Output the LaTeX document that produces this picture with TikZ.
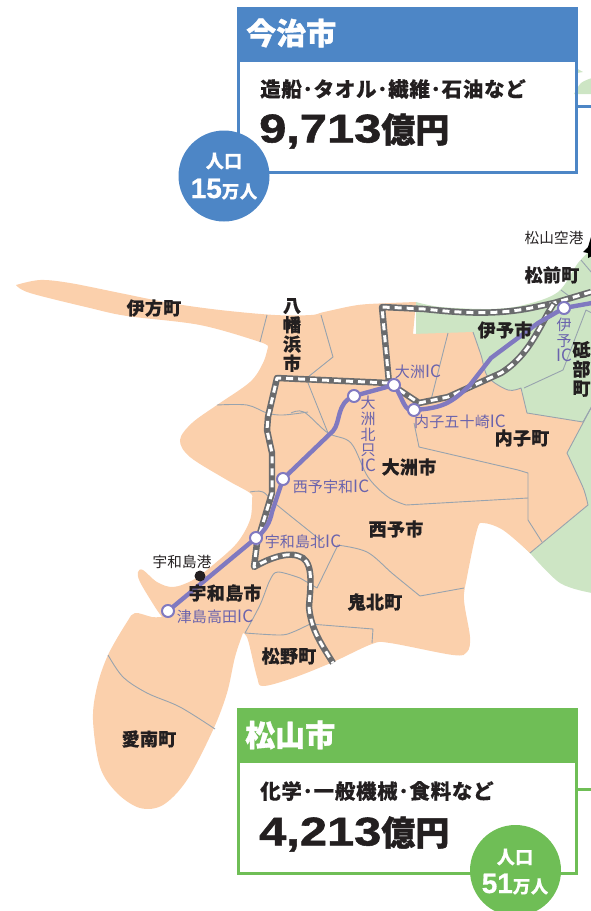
\documentclass[tikz,border=0pt]{standalone}
\usepackage{fontspec}
\newfontfamily\jpb[LetterSpace=2,FakeBold=0.4]{Noto Sans CJK JP}
\newfontfamily\jpt[LetterSpace=3.5,FakeBold=0.3]{Noto Sans CJK JP}
\newfontfamily\jpr[LetterSpace=1]{Noto Sans CJK JP}
\newfontfamily\jph[FakeBold=1.2]{Noto Sans CJK JP}
\newfontfamily\numfont[FakeStretch=1.22,FakeBold=1.4]{Liberation Sans}
\newfontfamily\popfont[FakeBold=0.6]{Liberation Sans}
\pgfdeclarelayer{base}
\pgfsetlayers{base,main}
\definecolor{ink}{HTML}{231F20}
\definecolor{peach}{HTML}{FBD0AC}
\definecolor{leaf}{HTML}{CDE5C4}
\definecolor{border}{HTML}{98A3AE}
\definecolor{railg}{HTML}{6A6B6D}
\definecolor{road}{HTML}{8079C0}
\definecolor{roadt}{HTML}{6A63AD}
\definecolor{imab}{HTML}{4D86C6}
\definecolor{matg}{HTML}{6FBE56}
\tikzset{
  x=1pt,y=-1pt,
  town/.style={inner sep=0pt,text=ink,align=center,font=\jpb\bfseries\fontsize{18}{19.3}\selectfont},
  place/.style={inner sep=0pt,text=ink,font=\jpr\fontsize{14.6}{16}\selectfont},
  ictext/.style={inner sep=0pt,text=roadt,align=center,font=\jpr\fontsize{15}{15.8}\selectfont},
  icnode/.style={circle,draw=road,fill=white,line width=2pt,minimum size=12pt,inner sep=0pt},
  limit/.style={draw=border,line width=0.9pt,line join=round},
  railbed/.style={draw=railg,line width=6.4pt,line join=round},
  railtie/.style={draw=white,line width=3pt,dash pattern=on 7pt off 5pt,line join=round},
  highway/.style={draw=road,line width=4.4pt,line join=round},
  head/.style={inner sep=0pt,text=white,font=\jph\bfseries\fontsize{30}{32}\selectfont},
  goods/.style={inner sep=0pt,text=ink,font=\jpt\bfseries\fontsize{20.5}{22}\selectfont},
  sumv/.style={inner sep=0pt,text=ink,font=\numfont\bfseries\fontsize{40}{42}\selectfont},
  poptop/.style={inner sep=0pt,text=white,font=\jpb\bfseries\fontsize{18}{18}\selectfont},
  popnum/.style={inner sep=0pt,text=white,font=\popfont\bfseries\fontsize{28}{28}\selectfont},
  smooth5/.style={smooth,tension=0.55},
}
\newcommand{\railpath}[1]{\draw[railbed] #1; \draw[railtie] #1;}
\begin{document}
\begin{tikzpicture}
\useasboundingbox (0,0) rectangle (591,911);

% interchanges
\node[icnode] (tsushima) at (168,611) {};
\node[icnode] (uwanorth) at (256,538) {};
\node[icnode] (seiyo) at (283,479) {};
\node[icnode] (ozunorth) at (354,396) {};
\node[icnode] (ozu) at (394,385) {};
\node[icnode] (uchiko) at (414,410) {};
\node[icnode] (iyo) at (564,308) {};
\coordinate (roadeast) at (592,303);

\begin{pgfonlayer}{base}
% leaf land
\fill[leaf] plot[smooth5] coordinates {(416,302) (441,307) (491,309) (524,305) (558,292) (578,263) (592,249)}
  -- (592,593) -- plot[smooth5] coordinates {(592,593) (560,583) (530,553)} -- (416,440) -- cycle;
\fill[leaf] (576,68) -- (583,72) -- (577,73) -- cycle;
\fill[leaf] plot[smooth5] coordinates {(574,94) (581,83) (592,78)} -- (592,94) -- cycle;
% peach land
\fill[peach] plot[smooth5] coordinates {(16,285) (40,280) (70,283) (120,293) (170,303) (220,310) (275,315) (311,315) (324,312) (358,305) (391,303) (416,302)}
  -- (413,334) -- (473,332)
  -- plot[smooth5] coordinates {(473,332) (481,355) (488,377) (508,390) (521,388)}
  -- (527,413) -- (583,422) -- (567,453)
  -- plot[smooth5] coordinates {(567,453) (575,470) (584,490) (588,505)}
  -- (530,553)
  -- plot[smooth5] coordinates {(530,553) (503,530) (483,523) (477,530) (467,577) (464,600) (470,637) (467,652) (453,655) (390,643) (372,644) (333,662) (293,678) (263,686) (257,677) (248,640) (243,633)}
  -- plot[smooth5] coordinates {(243,633) (235,657) (227,693) (213,730) (187,780) (163,805) (140,808) (117,793) (100,767) (93,720) (97,687) (108,655) (127,622) (135,613) (152,617) (162,617)}
  -- plot[smooth5] coordinates {(162,617) (155,607) (140,582) (138,572) (143,570) (157,582) (173,587) (193,580) (213,565) (237,543) (250,520) (252,500) (250,493) (227,480) (190,457) (180,440) (192,423) (217,405) (250,382) (263,363) (268,347)}
  -- plot[smooth5] coordinates {(268,347) (260,342) (200,325) (127,316) (90,308) (30,293) (16,285)}
  -- cycle;
% boundaries
\draw[limit] (267,315) -- (260,342);
\draw[limit] plot[smooth5] coordinates {(217,405) (247,405) (267,413) (283,415) (308,412)};
\draw[limit] plot[smooth5] coordinates {(291,413) (304,412) (328,433) (351,443) (368,477) (388,497) (406,505)} -- (528,498);
\draw[limit] (321,315) -- (333,357) -- (308,377) -- (308,383) -- (328,433);
\draw[limit] (448,333) -- (431,400);
\draw[limit] (414,423) -- (419,447) -- (518,470) -- (528,473) -- (528,520) -- (542,542);
\draw[limit] plot[smooth5] coordinates {(250,492) (263,492) (277,505) (323,542)};
\draw[limit] plot[smooth5] coordinates {(337,545) (367,552) (393,574) (420,596)} -- (464,588);
\draw[limit] (337,547) -- (317,588) -- (300,578);
\draw[limit] plot[smooth5] coordinates {(300,578) (278,572) (270,580) (260,605) (245,633)};
\draw[limit] plot[smooth5] coordinates {(245,633) (280,635) (293,632) (310,624)} -- (373,629) -- (372,643);
\draw[limit] plot[smooth5] coordinates {(108,655) (123,677) (147,693) (180,707) (215,729)};
\draw[limit] (561,290) -- (569,296);
\draw[limit] (581,260) -- (592,273);
\draw[limit] (592,313) -- (586,310) -- (563,370) -- (524,388);
\draw[limit] (527,413) -- (583,422) -- (592,406);
\draw[limit] (592,406) -- (567,453);
\draw[limit] plot[smooth5] coordinates {(567,453) (575,470) (584,490) (588,505)} -- (530,553);
\draw[limit] plot[smooth5] coordinates {(473,332) (481,355) (488,377) (508,390) (521,388)} -- (527,413);
% railway
\railpath{(591,292) -- (554,303) -- (531,308) .. controls (500,314) and (470,314) .. (424,309) -- (382,307) -- (389,383) -- (277,378) -- (268,417) -- (267,430) -- (272,453) -- (272,493) -- (257,543) -- (254,567) .. controls (270,558) and (290,550) .. (303,558) .. controls (314,566) and (310,590) .. (309,607) .. controls (311,630) and (322,645) .. (333,663)}
\railpath{(389,383) -- (419,403) -- (448,397) -- (501,373) .. controls (530,355) and (540,325) .. (554,303)}
% expressway
\draw[highway] (tsushima.center) -- (uwanorth.center) .. controls (266,530) and (270,522) .. (272,512) -- (seiyo.center) -- (333,431) .. controls (341,422) and (336,403) .. (ozunorth.center) -- (ozu.center) .. controls (404,400) and (404,412) .. (uchiko.center) .. controls (440,408) and (450,405) .. (470,385) -- (491,358) -- (538,323) -- (iyo.center) -- (roadeast);
\end{pgfonlayer}

% panels
\fill[imab] (237,7) rectangle (578,60);
\draw[imab,line width=3pt] (238.5,60) rectangle (576.5,172);
\draw[imab,line width=3pt] (577,106) -- (592,106);
\fill[imab] (224,176) circle (45.5);
\fill[matg] (237,708) rectangle (578,761);
\draw[matg,line width=3pt] (238.5,761) rectangle (576.5,873);
\draw[matg,line width=3pt] (577,789) -- (592,789);
\fill[matg] (515.5,870.5) circle (45.5);

\node[head,anchor=west] (imabari) at (246,33) {今治市};
\node[goods,anchor=west] (imagoods) at (260,89) {造船･タオル･繊維･石油など};
\node[sumv,anchor=west] (imasum) at (259,131) {9,713{\jph\bfseries\fontsize{34}{36}\selectfont 億円}};
\node[poptop] (imapop) at (224,161) {人口};
\node[popnum,anchor=base] (imaman) at (224,198) {15{\jpb\bfseries\fontsize{17.5}{18}\selectfont 万人}};

\node[head,anchor=west] (matsuyama) at (245,735) {松山市};
\node[goods,anchor=west] (matgoods) at (260,791) {化学･一般機械･食料など};
\node[sumv,anchor=west] (matsum) at (259,834) {4,213{\jph\bfseries\fontsize{34}{36}\selectfont 億円}};
\node[poptop] (matpop) at (515,857) {人口};
\node[popnum,anchor=base] (matman) at (515,893) {51{\jpb\bfseries\fontsize{17.5}{18}\selectfont 万人}};

% town names
\node[town] (ikata) at (154,308) {伊方町};
\node[town] (yawata) at (292,335) {八\\幡\\浜\\市};
\node[town] (masaki) at (552,275) {松前町};
\node[town] (iyocity) at (505,330) {伊予市};
\node[town] (tobe) at (581.5,369) {砥\\部\\町};
\node[town] (uchikotown) at (522,438) {内子町};
\node[town] (ozucity) at (409,467) {大洲市};
\node[town] (seiyocity) at (396,529) {西予市};
\node[town] (kihoku) at (375,602) {鬼北町};
\node[town] (matsuno) at (289,656) {松野町};
\node[town] (uwajima) at (225,593) {宇和島市};
\node[town] (ainan) at (149,739) {愛南町};

% ports and airport
\node[place] (airport) at (554,238) {松山空港};
\fill[black] (591,237) -- (588,247) -- (583,252) -- (588,253) -- (588,258) -- (592,256) -- cycle;
\node[place] (port) at (182,562) {宇和島港};
\fill[ink] (200,576) circle (5.5) coordinate (portdot);

% interchange labels
\newcommand{\icword}{{\fontsize{17}{17}\selectfont IC}}
\node[ictext] (l1) at (418,372) {大洲\icword};
\node[ictext] (l2) at (460,422) {内子五十崎\icword};
\node[ictext] (l3) at (368,434) {大\\洲\\北\\只\\\icword};
\node[ictext] (l4) at (331,487) {西予宇和\icword};
\node[ictext] (l5) at (303,542) {宇和島北\icword};
\node[ictext] (l6) at (215,617) {津島高田\icword};
\node[ictext] (l7) at (564,340) {伊\\予\\\icword};
\end{tikzpicture}
\end{document}
